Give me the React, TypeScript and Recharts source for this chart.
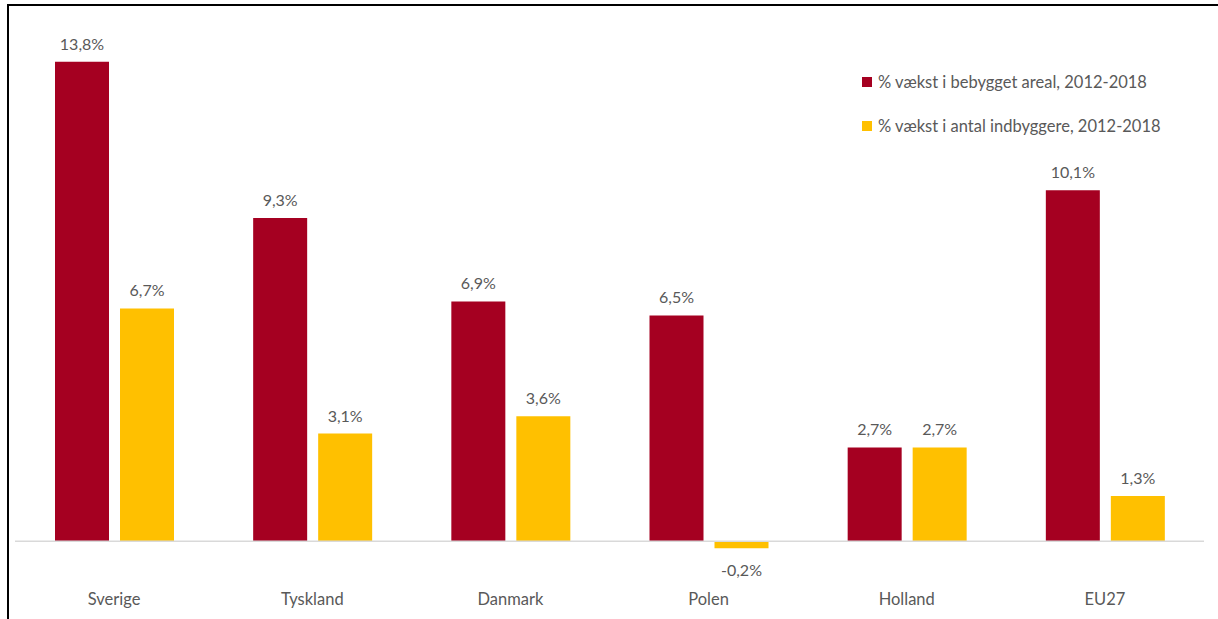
import { BarChart, Bar, XAxis, YAxis, LabelList, ReferenceLine } from "recharts"

const countries = ["Sverige", "Tyskland", "Danmark", "Polen", "Holland", "EU27"]
const arealGrowth = [13.8, 9.3, 6.9, 6.5, 2.7, 10.1]
const popGrowth = [6.7, 3.1, 3.6, -0.2, 2.7, 1.3]

const seriesNames = ["% vækst i bebygget areal, 2012-2018", "% vækst i antal indbyggere, 2012-2018"]
const colors = ["#A50021", "#FFC000"]

const data = countries.map((c, i) => ({ name: c, areal: arealGrowth[i], pop: popGrowth[i] }))

const FONT = "Lato, 'Liberation Sans', sans-serif"
const GREY = "#595959"

const fmt = (v: number) => v.toFixed(1).replace(".", ",") + "%"

function ValueLabel(props: any) {
  const { x, y, width, height, value } = props
  const top = Math.min(y, y + height)
  const bottom = Math.max(y, y + height)
  const ty = value < 0 ? bottom + 28 : top - 12
  return (
    <text x={x + width / 2} y={ty} textAnchor="middle" fill={GREY} fontSize={16} fontFamily={FONT}>
      {fmt(value)}
    </text>
  )
}

function LegendBox() {
  return (
    <div style={{ position: "absolute", left: 853, top: 65, fontFamily: FONT, fontSize: 16.5, color: GREY }}>
      {seriesNames.map((n, i) => (
        <div key={n} style={{ display: "flex", alignItems: "center", height: 22, marginBottom: i === 0 ? 22 : 0 }}>
          <span style={{ width: 10, height: 10, background: colors[i], marginRight: 6, display: "inline-block" }} />
          <span>{n}</span>
        </div>
      ))}
    </div>
  )
}

export default function App() {
  return (
    <div
      style={{
        position: "absolute",
        left: 7,
        top: 4,
        width: 1230,
        height: 640,
        border: "2px solid #000",
        background: "#fff",
      }}
    >
      <BarChart
        width={1210}
        height={630}
        data={data}
        margin={{ top: 14, right: 15, left: 6, bottom: 0 }}
        barSize={54}
        barGap={11}
      >
        <YAxis hide domain={[-1, 15]} type="number" allowDataOverflow />
        <XAxis
          dataKey="name"
          axisLine={false}
          tickLine={false}
          height={60}
          tickMargin={11}
          tick={{ fill: GREY, fontSize: 16.5, fontFamily: FONT }}
        />
        <ReferenceLine y={0} stroke="#D9D9D9" strokeWidth={1.5} />
        <Bar dataKey="areal" fill={colors[0]} isAnimationActive={false}>
          <LabelList dataKey="areal" content={ValueLabel} />
        </Bar>
        <Bar dataKey="pop" fill={colors[1]} isAnimationActive={false}>
          <LabelList dataKey="pop" content={ValueLabel} />
        </Bar>
      </BarChart>
      <LegendBox />
    </div>
  )
}
